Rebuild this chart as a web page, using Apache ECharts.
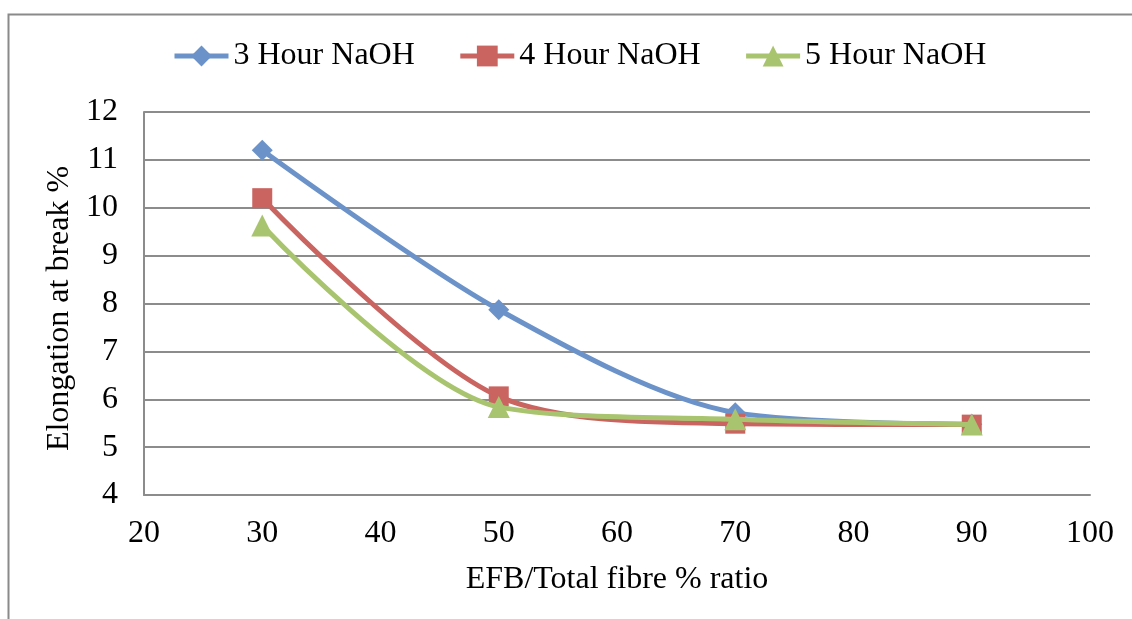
<!DOCTYPE html>
<html>
<head>
<meta charset="utf-8">
<script src="https://cdn.jsdelivr.net/npm/echarts@6/dist/echarts.min.js"></script>
<style>
  html, body { margin: 0; padding: 0; background: #ffffff; }
  #chart { width: 1132px; height: 619px; }
</style>
</head>
<body>
<div id="chart"></div>
<script>
// EFB share of total fibre (%)
const ratios = [30, 50, 70, 90];
// Elongation at break (%) for each NaOH treatment time
const naoh3h = [11.2, 7.87, 5.72, 5.48];
const naoh4h = [10.2, 6.06, 5.49, 5.47];
const naoh5h = [9.63, 5.84, 5.58, 5.47];
const seriesNames = ['3 Hour NaOH', '4 Hour NaOH', '5 Hour NaOH'];

const FONT = '"Liberation Serif", "Times New Roman", serif';
const colors = ['#6B93C9', '#CA6461', '#A9C46E'];
const symbols = ['diamond', 'rect', 'triangle'];
const symbolSizes = [21, 20, 22];

function pairs(vals) {
  return ratios.map((r, i) => [r, vals[i]]);
}

const chart = echarts.init(document.getElementById('chart'), null, { renderer: 'canvas' });

chart.setOption({
  animation: false,
  backgroundColor: '#ffffff',
  textStyle: { fontFamily: FONT, color: '#000' },
  graphic: [{
    type: 'rect',
    left: 6, top: 12,
    shape: { width: 1200, height: 700 },
    style: { fill: 'none', stroke: '#8a8a8a', lineWidth: 2 },
    silent: true, z: 0
  }],
  legend: {
    top: 40,
    left: 172,
    padding: 0,
    itemGap: 43,
    itemWidth: 54,
    itemHeight: 26,
    lineStyle: { width: 5 },
    textStyle: { fontFamily: FONT, fontSize: 32, color: '#000' },
    data: seriesNames
  },
  grid: { left: 144, right: 42, top: 112, bottom: 124 },
  xAxis: {
    type: 'value',
    min: 20, max: 100, interval: 10,
    name: 'EFB/Total fibre % ratio',
    nameLocation: 'middle',
    nameGap: 69,
    nameTextStyle: { fontFamily: FONT, fontSize: 32, color: '#000' },
    axisLine: { show: true, lineStyle: { color: '#8c8c8c', width: 2 } },
    axisTick: { show: false },
    splitLine: { show: false },
    axisLabel: { fontFamily: FONT, fontSize: 32, color: '#000', margin: 23 }
  },
  yAxis: {
    type: 'value',
    min: 4, max: 12, interval: 1,
    name: 'Elongation at break %',
    nameLocation: 'middle',
    nameGap: 62,
    nameTextStyle: { fontFamily: FONT, fontSize: 32, color: '#000', padding: [0, 10, 0, 0] },
    axisLine: { show: true, lineStyle: { color: '#8c8c8c', width: 2 } },
    axisTick: { show: false },
    splitLine: { show: true, lineStyle: { color: '#8c8c8c', width: 2 } },
    axisLabel: { fontFamily: FONT, fontSize: 32, color: '#000', margin: 26 }
  },
  series: [naoh3h, naoh4h, naoh5h].map((vals, i) => ({
    name: seriesNames[i],
    type: 'line',
    smooth: 0.3,
    data: pairs(vals),
    symbol: symbols[i],
    symbolSize: symbolSizes[i],
    lineStyle: { color: colors[i], width: 5 },
    itemStyle: { color: colors[i] },
    z: 3 + i
  }))
});
</script>
</body>
</html>
